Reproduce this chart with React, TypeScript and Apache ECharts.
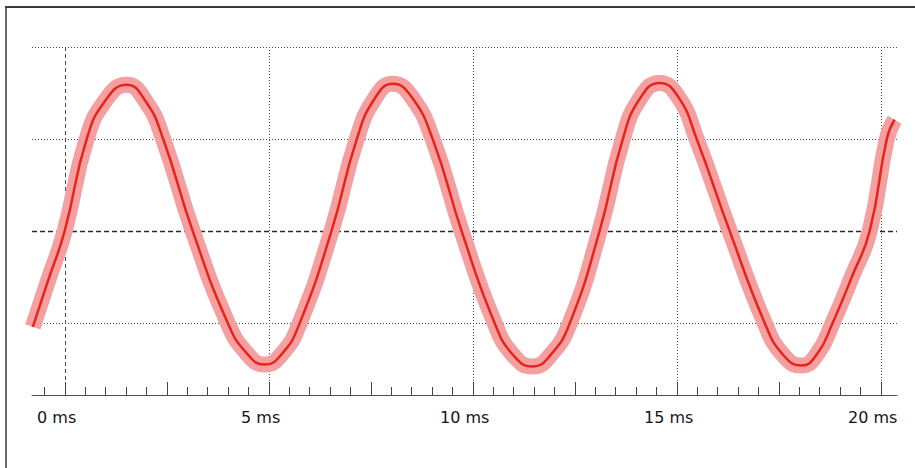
import React, { useEffect, useRef } from "react";
import * as echarts from "echarts";

// Signal trace: time (ms) and level (grid divisions)
const timeMs = [
  -0.78, -0.4, 0, 0.54, 1.0, 1.52, 2.0, 2.4, 3.14, 4.0, 4.45, 4.9, 5.35, 5.76,
  6.54, 7.16, 7.6, 8.04, 8.5, 9.02, 9.73, 10.54, 11.0, 11.47, 11.9, 12.38,
  13.11, 13.68, 14.1, 14.58, 15.05, 15.49, 16.3, 17.16, 17.6, 18.06, 18.45,
  18.82, 19.3, 19.73, 20.15, 20.34,
];
const level = [
  -1.04, -0.53, 0, 1.0, 1.42, 1.59, 1.4, 1.02, 0, -1.0, -1.32, -1.45, -1.32,
  -1.0, 0, 1.0, 1.44, 1.6, 1.46, 1.0, 0, -1.0, -1.35, -1.47, -1.35, -1.0, 0,
  1.0, 1.44, 1.61, 1.45, 1.0, 0, -1.0, -1.34, -1.46, -1.33, -1.0, -0.49, 0,
  1.0, 1.21,
];

// Axis layout values
const X_MIN = -0.8;
const X_MAX = 20.4;
const Y_MIN = -1.78;
const Y_MAX = 2;
const xLabelValues = [0, 5, 10, 15, 20];
const gridXValues = [0, 5, 10, 15, 20];
const gridYValues = [2, 1, 0, -1];
const TICK_STEP = 0.5;
const TICK_MAJOR_STEP = 2.5;

export default function App() {
  const ref = useRef<HTMLDivElement>(null);

  useEffect(() => {
    if (!ref.current) return;
    const chart = echarts.init(ref.current, undefined, { renderer: "svg" });

    const tickValues: number[] = [];
    for (let v = -0.5; v <= X_MAX + 1e-9; v += TICK_STEP) {
      tickValues.push(Math.round(v * 10) / 10);
    }

    const trace = timeMs.map((t, i) => [t, level[i]]);
    const crisp = (v: number) => Math.round(v) + 0.5;

    chart.setOption({
      animation: false,
      backgroundColor: "#ffffff",
      grid: { left: 32, top: 47, width: 865, height: 348, containLabel: false },
      xAxis: {
        type: "value",
        min: X_MIN,
        max: X_MAX,
        axisLine: { show: true, onZero: false, lineStyle: { color: "#505050", width: 1 } },
        axisTick: { show: false },
        splitLine: { show: false },
        axisLabel: {
          customValues: xLabelValues,
          formatter: (v: number) => `${v} ms`,
          fontFamily: "DejaVu Sans",
          fontSize: 16,
          color: "#14141e",
          margin: 14,
          padding: [0, 16, 0, 0],
        },
      },
      yAxis: {
        type: "value",
        min: Y_MIN,
        max: Y_MAX,
        show: false,
      },
      graphic: [
        {
          type: "line",
          shape: { x1: 6, y1: 7, x2: 6, y2: 468 },
          style: { stroke: "#6a6a6a", lineWidth: 2 },
          silent: true,
        },
        {
          type: "line",
          shape: { x1: 5, y1: 7, x2: 915, y2: 7 },
          style: { stroke: "#3a3a3a", lineWidth: 2 },
          silent: true,
        },
      ],
      series: [
        {
          name: "vgrid",
          type: "custom",
          z: 1,
          silent: true,
          clip: false,
          data: gridXValues.map((v) => [v, Y_MIN]),
          renderItem: (_p: any, api: any) => {
            const v = api.value(0);
            const a = api.coord([v, Y_MAX]);
            const b = api.coord([v, Y_MIN]);
            const x = crisp(a[0]);
            return {
              type: "line",
              shape: { x1: x, y1: a[1], x2: x, y2: b[1] },
              style: {
                stroke: "#4a4a4a",
                lineWidth: 1,
                lineDash: v === 0 ? [4, 3] : [1, 2],
              },
            };
          },
        },
        {
          name: "hgrid",
          type: "custom",
          z: 1,
          silent: true,
          clip: false,
          data: gridYValues.map((v) => [X_MIN, v]),
          renderItem: (_p: any, api: any) => {
            const v = api.value(1);
            const a = api.coord([X_MIN, v]);
            const b = api.coord([X_MAX, v]);
            const y = crisp(a[1]);
            return {
              type: "line",
              shape: { x1: a[0], y1: y, x2: b[0], y2: y },
              style: {
                stroke: v === 0 ? "#2a2a2a" : "#4a4a4a",
                lineWidth: v === 0 ? 1.5 : 1,
                lineDash: v === 0 ? [5, 3] : [1, 2],
              },
            };
          },
        },
        {
          name: "ticks",
          type: "custom",
          z: 2,
          silent: true,
          clip: false,
          data: tickValues.map((v) => [v, Y_MIN]),
          renderItem: (_p: any, api: any) => {
            const v = api.value(0);
            const p = api.coord([v, Y_MIN]);
            const isMajor = Math.abs(v / TICK_MAJOR_STEP - Math.round(v / TICK_MAJOR_STEP)) < 1e-6;
            const len = isMajor ? 13 : 8;
            const x = crisp(p[0]);
            return {
              type: "line",
              shape: { x1: x, y1: p[1], x2: x, y2: p[1] - len },
              style: { stroke: "#444444", lineWidth: 1 },
            };
          },
        },
        {
          name: "band",
          type: "line",
          z: 3,
          data: trace,
          smooth: 0.5,
          symbol: "none",
          silent: true,
          lineStyle: { color: "#f5a0a0", width: 16, cap: "butt", join: "round" },
        },
        {
          name: "trace",
          type: "line",
          z: 4,
          data: trace,
          smooth: 0.5,
          symbol: "none",
          silent: true,
          lineStyle: { color: "#e8231a", width: 2.5 },
        },
      ],
    });

    return () => chart.dispose();
  }, []);

  return (
    <div
      ref={ref}
      style={{ position: "fixed", left: 0, top: 0, width: 915, height: 468, background: "#fff" }}
    />
  );
}
